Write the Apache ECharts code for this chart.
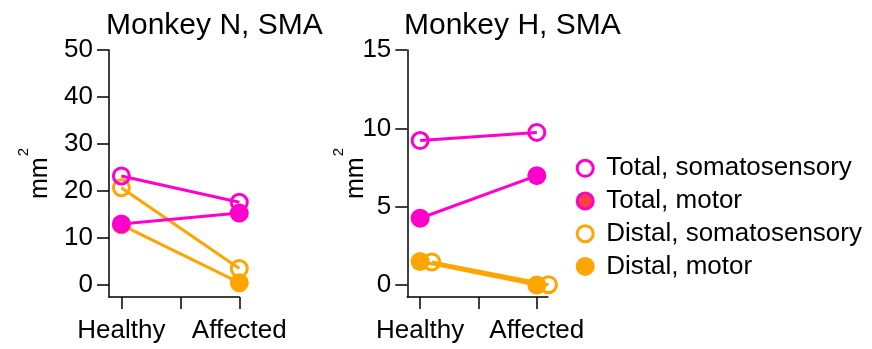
<!DOCTYPE html>
<html>
<head>
<meta charset="utf-8">
<script src="https://cdn.jsdelivr.net/npm/echarts@6/dist/echarts.min.js"></script>
<style>
  html, body { margin: 0; padding: 0; background: #fff; }
  #chart { width: 872px; height: 349px; }
</style>
</head>
<body>
<div id="chart"></div>
<script>
// Conditions on the x axis (index 0 and 1)
const categories = ['Healthy', 'Affected'];
const seriesNames = ['Total, somatosensory', 'Total, motor', 'Distal, somatosensory', 'Distal, motor'];
const panelTitles = ['Monkey N, SMA', 'Monkey H, SMA'];

// Monkey N, cortical area in mm²
const nTotalSomato = [23.2, 17.6];
const nTotalMotor = [13.0, 15.3];
const nDistalSomato = [20.7, 3.5];
const nDistalMotor = [12.8, 0.5];

// Monkey H, cortical area in mm²
const hTotalSomato = [9.22, 9.74];
const hTotalMotor = [4.26, 6.98];
const hDistalSomato = [1.47, 0.02];
const hDistalMotor = [1.50, 0.0];

// Tick values
const nYTicks = [0, 10, 20, 30, 40, 50];
const hYTicks = [0, 5, 10, 15];
const xTicks = [0, 0.5, 1];
const xLabelTicks = [0, 1];

const MAGENTA = '#ff00cc';
const ORANGE = '#ffa500';
const MOTOR_KEY_FILL = '#ff4040';
const FONT = '"Liberation Sans", Arial, Helvetica, sans-serif';

// open markers of the distal somatosensory series are nudged right in panel H
const hOpenShift = 0.1;

function lineSeries(name, values, panel, color, open, shift) {
  return {
    type: 'line',
    name: name,
    xAxisIndex: panel,
    yAxisIndex: panel,
    data: values.map((v, i) => [i + (shift || 0), v]),
    symbol: 'circle',
    symbolSize: open ? 16 : 19,
    showSymbol: true,
    clip: false,
    itemStyle: open
      ? { color: 'rgba(255,255,255,0)', borderColor: color, borderWidth: 3 }
      : { color: color, borderWidth: 0 },
    lineStyle: { color: color, width: 3 },
    emphasis: { disabled: true },
    animation: false,
    silent: true
  };
}

function xAxis(panel, min, max) {
  return {
    type: 'value',
    gridIndex: panel,
    min: min,
    max: max,
    splitLine: { show: false },
    axisLine: { show: true, onZero: false, lineStyle: { color: '#000', width: 1.5 } },
    axisTick: { show: true, inside: false, length: 12, customValues: xTicks,
                lineStyle: { color: '#000', width: 1.5 } },
    axisLabel: { show: true, customValues: xLabelTicks, margin: 21,
                 fontSize: 26, color: '#000', fontFamily: FONT,
                 formatter: v => categories[Math.round(v)] }
  };
}

function yAxis(panel, min, max, ticks, nameGap) {
  return {
    type: 'value',
    gridIndex: panel,
    min: min,
    max: max,
    name: '{a|mm}{s|2}',
    nameLocation: 'middle',
    nameRotate: 90,
    nameGap: nameGap,
    nameMoveOverlap: false,
    nameTextStyle: {
      fontFamily: FONT, color: '#000',
      rich: {
        a: { fontSize: 25, lineHeight: 30, fontFamily: FONT, color: '#000' },
        s: { fontSize: 15, lineHeight: 15, padding: [0, 0, 34, 1], fontFamily: FONT, color: '#000' }
      }
    },
    splitLine: { show: false },
    axisLine: { show: true, onZero: false, lineStyle: { color: '#000', width: 1.5 } },
    axisTick: { show: true, inside: false, length: 12, customValues: ticks,
                lineStyle: { color: '#000', width: 1.5 } },
    axisLabel: { show: true, customValues: ticks, margin: 16,
                 fontSize: 26, color: '#000', fontFamily: FONT }
  };
}

const chart = echarts.init(document.getElementById('chart'), null, { renderer: 'canvas' });

chart.setOption({
  backgroundColor: '#fff',
  animation: false,
  textStyle: { fontFamily: FONT },
  title: [
    { text: panelTitles[0], left: 106, top: 11, padding: 0,
      textStyle: { fontSize: 30, fontWeight: 'normal', color: '#000', fontFamily: FONT } },
    { text: panelTitles[1], left: 404, top: 11, padding: 0,
      textStyle: { fontSize: 30, fontWeight: 'normal', color: '#000', fontFamily: FONT } }
  ],
  grid: [
    { left: 109, top: 50, width: 130.3, height: 247 },
    { left: 407.3, top: 50, width: 140.6, height: 247 }
  ],
  xAxis: [xAxis(0, -0.105, 1.0), xAxis(1, -0.11, 1.095)],
  yAxis: [yAxis(0, -2.55, 50, nYTicks, 53.5), yAxis(1, -0.766, 15, hYTicks, 36.5)],
  legend: {
    orient: 'vertical',
    left: 575.7,
    top: 154.3,
    padding: 0,
    itemWidth: 32,
    itemHeight: 16,
    itemGap: 4.7,
    selectedMode: false,
    textStyle: { fontSize: 26, lineHeight: 28, color: '#000', fontFamily: FONT },
    data: [
      { name: seriesNames[0], icon: 'circle',
        itemStyle: { color: '#fff', borderColor: MAGENTA, borderWidth: 3 } },
      { name: seriesNames[1], icon: 'circle',
        itemStyle: { color: MOTOR_KEY_FILL, borderColor: MAGENTA, borderWidth: 3 } },
      { name: seriesNames[2], icon: 'circle',
        itemStyle: { color: '#fff', borderColor: ORANGE, borderWidth: 3 } },
      { name: seriesNames[3], icon: 'circle',
        itemStyle: { color: ORANGE, borderColor: ORANGE, borderWidth: 3 } }
    ]
  },
  series: [
    lineSeries(seriesNames[2], nDistalSomato, 0, ORANGE, true),
    lineSeries(seriesNames[3], nDistalMotor, 0, ORANGE, false),
    lineSeries(seriesNames[0], nTotalSomato, 0, MAGENTA, true),
    lineSeries(seriesNames[1], nTotalMotor, 0, MAGENTA, false),

    lineSeries(seriesNames[3], hDistalMotor, 1, ORANGE, false),
    lineSeries(seriesNames[2], hDistalSomato, 1, ORANGE, true, hOpenShift),
    lineSeries(seriesNames[0], hTotalSomato, 1, MAGENTA, true),
    lineSeries(seriesNames[1], hTotalMotor, 1, MAGENTA, false)
  ]
});
</script>
</body>
</html>
